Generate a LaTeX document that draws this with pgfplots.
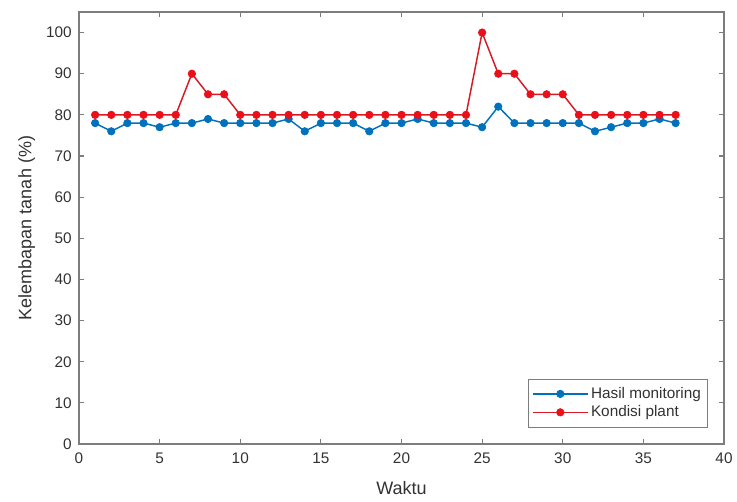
\documentclass[border=0pt]{standalone}
\usepackage{fontspec}
\setmainfont{Liberation Sans}
\usepackage{pgfplots}
\pgfplotsset{compat=1.18}

\definecolor{mblue}{rgb}{0,0.447,0.741}
\definecolor{mred}{RGB}{215,25,35}
\definecolor{mredf}{RGB}{235,15,25}
\definecolor{axgray}{RGB}{125,125,125}
\definecolor{txtgray}{RGB}{50,50,50}

\begin{document}
\begin{tikzpicture}
\begin{axis}[
    scale only axis,
    width=483.75pt, height=324pt,
    xmin=0, xmax=40, ymin=0, ymax=105,
    xtick={0,5,...,40},
    ytick={0,10,...,100},
    tick align=inside,
    tick pos=both,
    major tick length=4pt,
    axis line style={axgray, line width=0.9pt},
    every tick/.style={axgray, line width=0.9pt},
    /pgf/number format/assume math mode=true,
    ticklabel style={font=\fontsize{11.5}{14}\selectfont, text=txtgray},
    xticklabel style={yshift=-3pt},
    yticklabel style={xshift=-2pt},
    xlabel={Waktu},
    ylabel={Kelembapan tanah (\%)},
    every axis x label/.style={at={(axis description cs:0.5,-0.102)}, anchor=center,
        font=\fontsize{13.5}{16}\selectfont, text=txtgray},
    every axis y label/.style={at={(axis description cs:-0.081,0.5)}, anchor=center, rotate=90,
        font=\fontsize{13.5}{16}\selectfont, text=txtgray},
    legend style={
        at={(axis description cs:0.975,0.039)}, anchor=south east,
        draw=axgray,
        font=\fontsize{11.5}{13.5}\selectfont, text=txtgray,
        cells={anchor=west},
        inner xsep=3pt, inner ysep=4pt,
        row sep=0pt,
    },
    legend image code/.code={\draw[mark repeat=2,mark phase=2,line width=1.1pt,#1] plot coordinates {(0cm,0cm) (0.72cm,0cm) (1.44cm,0cm)};},
]
\addplot[mblue, line width=1.1pt, mark=*, mark size=2.8pt, mark options={fill=mblue, draw=mblue, line width=0.5pt}]
coordinates {
(1,78) (2,76) (3,78) (4,78) (5,77) (6,78) (7,78) (8,79) (9,78) (10,78)
(11,78) (12,78) (13,79) (14,76) (15,78) (16,78) (17,78) (18,76) (19,78) (20,78)
(21,79) (22,78) (23,78) (24,78) (25,77) (26,82) (27,78) (28,78) (29,78) (30,78)
(31,78) (32,76) (33,77) (34,78) (35,78) (36,79) (37,78)
};
\addlegendentry{Hasil monitoring}
\addplot[mred, line width=1.1pt, mark=*, mark size=2.8pt, mark options={fill=mredf, draw=mredf, line width=0.5pt}]
coordinates {
(1,80) (2,80) (3,80) (4,80) (5,80) (6,80) (7,90) (8,85) (9,85) (10,80)
(11,80) (12,80) (13,80) (14,80) (15,80) (16,80) (17,80) (18,80) (19,80) (20,80)
(21,80) (22,80) (23,80) (24,80) (25,100) (26,90) (27,90) (28,85) (29,85) (30,85)
(31,80) (32,80) (33,80) (34,80) (35,80) (36,80) (37,80)
};
\addlegendentry{Kondisi plant}
\end{axis}
\path ([shift={(-59.25pt,-42.75pt)}]current axis.south west) rectangle ([shift={(9.75pt,9pt)}]current axis.north east);
\end{tikzpicture}
\end{document}
